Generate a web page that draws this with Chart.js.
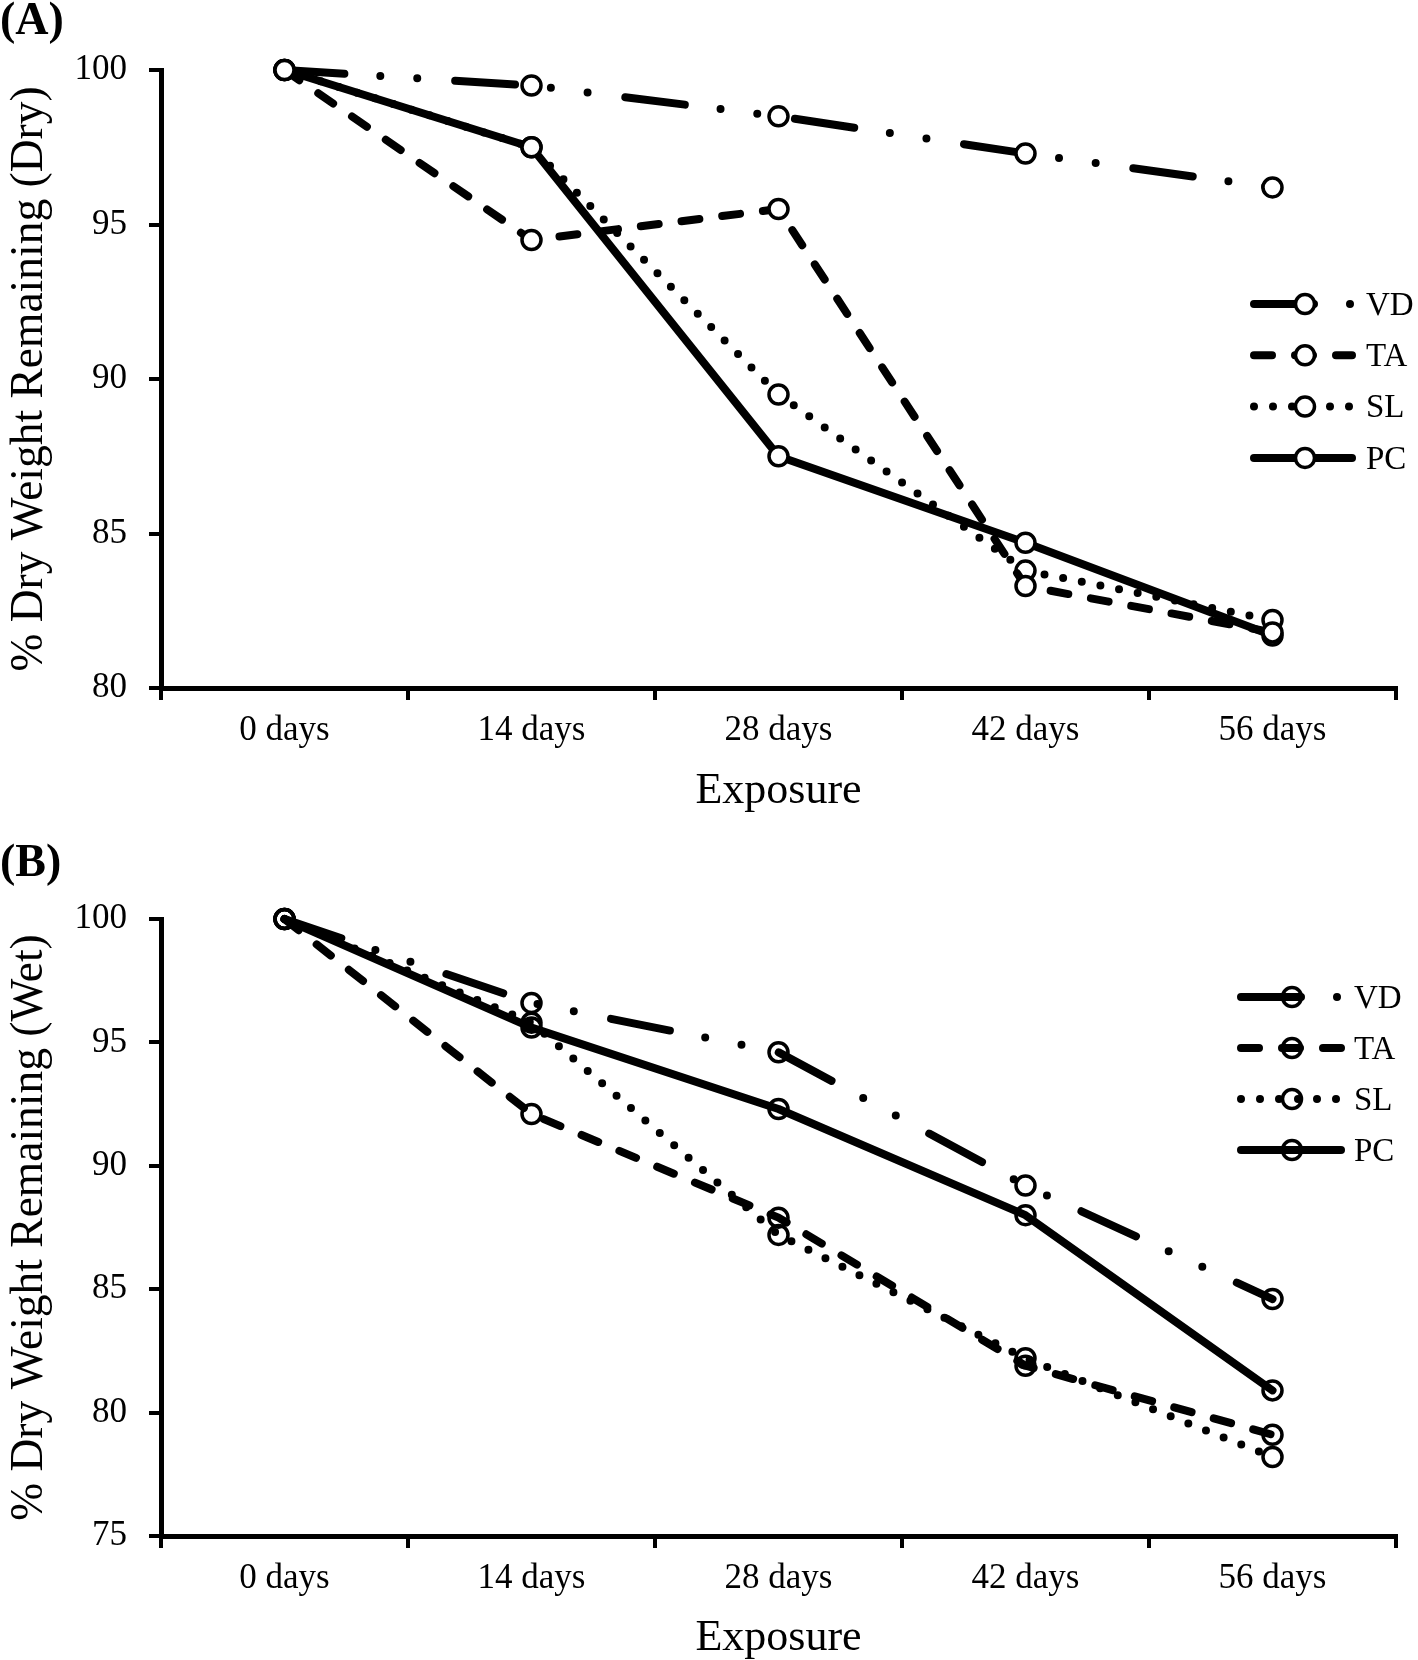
<!DOCTYPE html>
<html>
<head>
<meta charset="utf-8">
<title>% Dry Weight Remaining</title>
<script src="https://cdn.jsdelivr.net/npm/chart.js@4.4.1/dist/chart.umd.min.js"></script>
<style>
  body { margin: 0; background: #fff; }
  canvas { display: block; }
</style>
</head>
<body>
<canvas id="dryChart" width="1418" height="830"></canvas>
<canvas id="wetChart" width="1418" height="830"></canvas>
<script>
// ── Data ────────────────────────────────────────────────────────
const exposure = ['0 days', '14 days', '28 days', '42 days', '56 days'];
const seriesNames = ['VD', 'TA', 'SL', 'PC'];

// Panel A — dry
const dryVD = [100, 99.5, 98.5, 97.3, 96.2];
const dryTA = [100, 94.5, 95.5, 83.3, 81.8];
const drySL = [100, 97.5, 89.5, 83.8, 82.2];
const dryPC = [100, 97.5, 87.5, 84.7, 81.7];
const dryTicks = [80, 100];

// Panel B — wet
const wetVD = [100, 96.6, 94.6, 89.2, 84.6];
const wetTA = [100, 92.1, 87.9, 81.9, 79.1];
const wetSL = [100, 95.8, 87.2, 82.2, 78.2];
const wetPC = [100, 95.6, 92.3, 88.0, 80.9];
const wetTicks = [75, 100];

// ── Styles ──────────────────────────────────────────────────────
const SERIF = '"Liberation Serif", "Times New Roman", serif';
const dashes = {
  VD: [60, 36, 0, 37, 0, 38],
  TA: [18, 23],
  SL: [0, 19],
  PC: [],
};

function buildDatasets(values, markerFill) {
  return seriesNames.map((name, i) => ({
    label: name,
    data: values[i],
    borderColor: '#000',
    borderWidth: 8,
    borderDash: dashes[name],
    borderCapStyle: 'round',
    borderJoinStyle: 'round',
    tension: 0,
    pointRadius: 9.5,
    pointHoverRadius: 9.5,
    pointBorderWidth: 3.5,
    pointBorderColor: '#000',
    pointBackgroundColor: markerFill,
    clip: false,
  }));
}

// Legend + panel letter, drawn straight onto the canvas
const sideLegend = {
  id: 'sideLegend',
  afterDatasetsDraw(chart, args, opts) {
    const ctx = chart.ctx;
    ctx.save();
    chart.data.datasets.forEach((ds, i) => {
      const y = opts.top + i * opts.gap;
      ctx.strokeStyle = '#000';
      ctx.lineWidth = ds.borderWidth;
      ctx.lineCap = 'round';
      ctx.setLineDash(ds.borderDash);
      ctx.beginPath();
      ctx.moveTo(opts.x0, y);
      ctx.lineTo(opts.x1, y);
      ctx.stroke();

      ctx.setLineDash([]);
      ctx.lineWidth = ds.pointBorderWidth;
      ctx.fillStyle = ds.pointBackgroundColor;
      ctx.beginPath();
      ctx.arc(opts.mx, y, ds.pointRadius, 0, Math.PI * 2);
      ctx.fill();
      ctx.stroke();

      ctx.fillStyle = '#000';
      ctx.font = '33px ' + SERIF;
      ctx.textBaseline = 'middle';
      ctx.textAlign = 'left';
      ctx.fillText(ds.label, opts.textX, y + 2);
    });

    ctx.font = 'bold 46px ' + SERIF;
    ctx.textBaseline = 'alphabetic';
    ctx.fillStyle = '#000';
    ctx.fillText(opts.panel, 0, opts.panelY);
    ctx.restore();
  },
};

function buildChart(canvasId, cfg) {
  const canvas = document.getElementById(canvasId);
  return new Chart(canvas.getContext('2d'), {
    type: 'line',
    data: { labels: exposure, datasets: buildDatasets(cfg.values, cfg.markerFill) },
    plugins: [sideLegend],
    options: {
      responsive: false,
      animation: false,
      devicePixelRatio: 1,
      layout: { padding: { top: cfg.top, left: 0, right: 22, bottom: 0 } },
      plugins: {
        legend: { display: false },
        tooltip: { enabled: false },
        sideLegend: cfg.legend,
      },
      scales: {
        x: {
          type: 'category',
          offset: true,
          afterFit: s => { s.height = cfg.xHeight; },
          grid: { offset: true, drawOnChartArea: false, tickLength: 12, lineWidth: 4, color: '#000' },
          border: { display: true, color: '#000', width: 5 },
          ticks: { color: '#000', font: { family: SERIF, size: 35 }, padding: cfg.xTickPad, maxRotation: 0 },
          title: { display: true, text: 'Exposure', color: '#000', font: { family: SERIF, size: 44 }, padding: cfg.xTitlePad },
        },
        y: {
          min: cfg.ticks[0],
          max: cfg.ticks[1],
          afterFit: s => { s.width = 161; },
          grid: { drawOnChartArea: false, tickLength: 12, lineWidth: 4, color: '#000' },
          border: { display: true, color: '#000', width: 5 },
          ticks: { stepSize: 5, color: '#000', font: { family: SERIF, size: 35 }, padding: 22 },
          title: { display: true, text: cfg.yTitle, color: '#000', font: { family: SERIF, size: 45.5 }, padding: 3 },
        },
      },
    },
  });
}

buildChart('dryChart', {
  values: [dryVD, dryTA, drySL, dryPC],
  ticks: dryTicks,
  markerFill: '#fff',
  top: 70,
  xHeight: 142,
  xTickPad: 10,
  xTitlePad: 12,
  yTitle: '% Dry Weight Remaining (Dry)',
  legend: { top: 304, gap: 51.3, x0: 1254, x1: 1352, mx: 1305, textX: 1366, panel: '(A)', panelY: 34 },
});

buildChart('wetChart', {
  values: [wetVD, wetTA, wetSL, wetPC],
  ticks: wetTicks,
  markerFill: 'rgba(0,0,0,0)',
  top: 89,
  xHeight: 124,
  xTickPad: 10,
  xTitlePad: -5,
  yTitle: '% Dry Weight Remaining (Wet)',
  legend: { top: 167, gap: 51, x0: 1241, x1: 1341, mx: 1292, textX: 1354, panel: '(B)', panelY: 46 },
});
</script>
</body>
</html>
